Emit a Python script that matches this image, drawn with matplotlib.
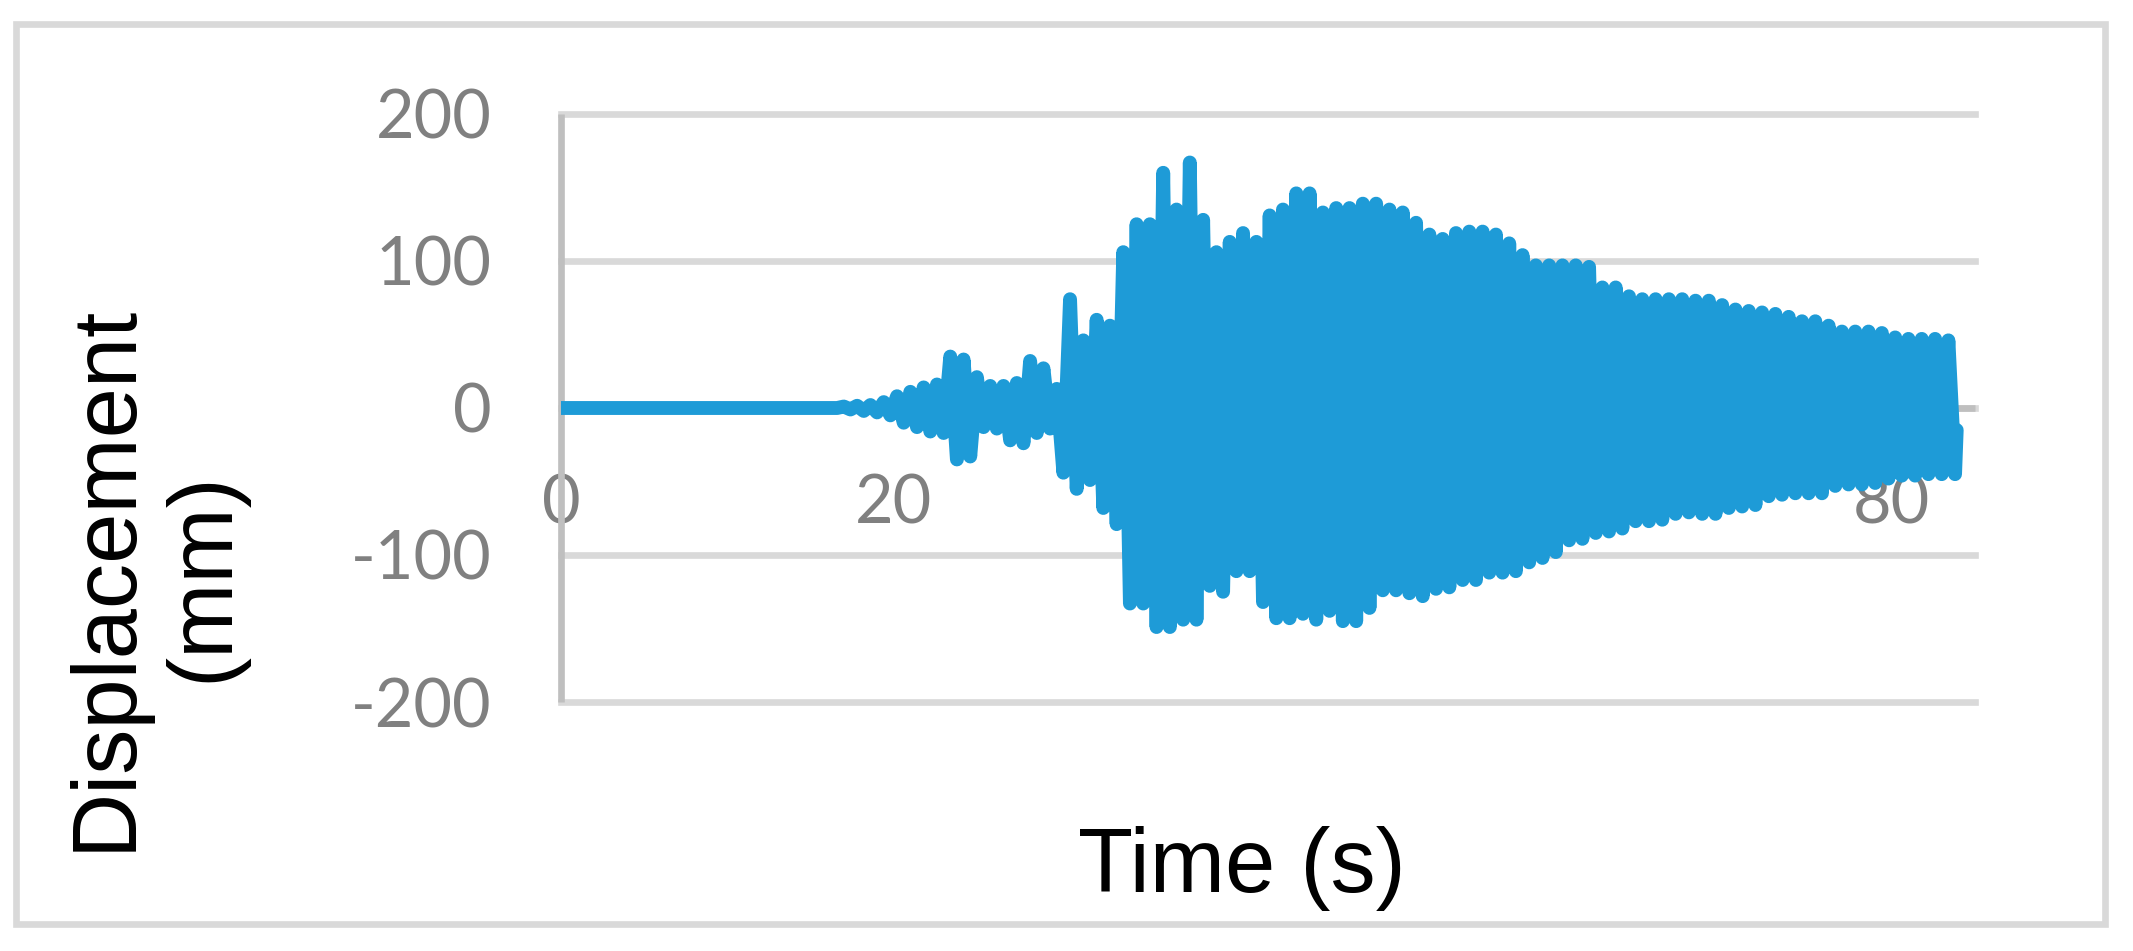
import matplotlib
matplotlib.use("Agg")
import matplotlib.pyplot as plt
from matplotlib.patches import Rectangle

# ---------------- data ----------------
time_s = [
    0.0, 16.6,
    17.0, 17.4, 17.8, 18.2, 18.6, 19.0, 19.4, 19.8, 20.2, 20.6,
    21.0, 21.4, 21.8, 22.2, 22.6, 23.0, 23.4, 23.8, 24.2, 24.6,
    25.0, 25.4, 25.8, 26.2, 26.6, 27.0, 27.4, 27.8, 28.2, 28.6,
    29.0, 29.4, 29.8, 30.2, 30.6, 31.0, 31.4, 31.8, 32.2, 32.6,
    33.0, 33.4, 33.8, 34.2, 34.6, 35.0, 35.4, 35.8, 36.2, 36.6,
    37.0, 37.4, 37.8, 38.2, 38.6, 39.0, 39.4, 39.8, 40.2, 40.6,
    41.0, 41.4, 41.8, 42.2, 42.6, 43.0, 43.4, 43.8, 44.2, 44.6,
    45.0, 45.4, 45.8, 46.2, 46.6, 47.0, 47.4, 47.8, 48.2, 48.6,
    49.0, 49.4, 49.8, 50.2, 50.6, 51.0, 51.4, 51.8, 52.2, 52.6,
    53.0, 53.4, 53.8, 54.2, 54.6, 55.0, 55.4, 55.8, 56.2, 56.6,
    57.0, 57.4, 57.8, 58.2, 58.6, 59.0, 59.4, 59.8, 60.2, 60.6,
    61.0, 61.4, 61.8, 62.2, 62.6, 63.0, 63.4, 63.8, 64.2, 64.6,
    65.0, 65.4, 65.8, 66.2, 66.6, 67.0, 67.4, 67.8, 68.2, 68.6,
    69.0, 69.4, 69.8, 70.2, 70.6, 71.0, 71.4, 71.8, 72.2, 72.6,
    73.0, 73.4, 73.8, 74.2, 74.6, 75.0, 75.4, 75.8, 76.2, 76.6,
    77.0, 77.4, 77.8, 78.2, 78.6, 79.0, 79.4, 79.8, 80.2, 80.6,
    81.0, 81.4, 81.8, 82.2, 82.6, 83.0, 83.4,
    83.8, 83.9,
]

disp_mm = [
    0, 0,
    1, -1, 1.5, -2, 2, -3, 4, -5, 8, -10,
    11, -13, 14, -16, 16, -17, 35, -35, 33, -33,
    21, -13, 15, -14, 15, -22, 17, -24, 32, -17,
    27, -14, 13, -44, 74, -55, 46, -49, 60, -68,
    56, -79, 106, -133, 125, -133, 125, -149, 160, -149,
    135, -144, 167, -144, 128, -121, 106, -125, 113, -111,
    119, -111, 113, -132, 131, -143, 135, -143, 146, -140,
    146, -144, 133, -138, 136, -145, 136, -145, 139, -136,
    139, -124, 135, -124, 133, -126, 126, -128, 118, -123,
    115, -122, 119, -117, 120, -117, 120, -112, 118, -112,
    112, -111, 104, -105, 97, -102, 97, -98, 97, -90,
    97, -89, 96, -85, 82, -84, 82, -82, 76, -77,
    74, -77, 74, -76, 74, -72, 74, -71, 73, -72,
    73, -72, 70, -68, 67, -67, 66, -66, 65, -60,
    64, -59, 62, -58, 59, -58, 59, -58, 56, -53,
    52, -52, 52, -52, 52, -51, 51, -48, 48, -46,
    47, -46, 47, -45, 47, -45, 46,
    -45, -15,
]

x_ticks = [0, 20, 40, 60, 80]
x_tick_labels = ["0", "20", "40", "60", "80"]
y_ticks = [-200, -100, 0, 100, 200]
y_tick_labels = ["-200", "-100", "0", "100", "200"]

x_label = "Time (s)"
y_label = "Displacement\n(mm)"

# ---------------- figure ----------------
plt.rcParams["axes.unicode_minus"] = False

W, H = 2133, 951
fig = plt.figure(figsize=(W / 100, H / 100), dpi=100)

# outer chart-area border
fig.patches.append(Rectangle((16 / W, 1 - 923.5 / H), (2104.5 - 16) / W, (923.5 - 24) / H,
                             transform=fig.transFigure, fill=False,
                             edgecolor="#D9D9D9", linewidth=4.8))

L, R, T, B = 561, 1975, 114, 702
ax = fig.add_axes([L / W, 1 - B / H, (R - L) / W, (B - T) / H])

ax.plot(time_s, disp_mm, color="#1E9BD7", lw=10,
        solid_joinstyle="round", solid_capstyle="round", zorder=3)

ax.set_xlim(0, 85)
ax.set_ylim(-200, 200)
ax.set_xticks(x_ticks)
ax.set_xticklabels(x_tick_labels)
ax.set_yticks(y_ticks)
ax.set_yticklabels(y_tick_labels)

for s in ["top", "right"]:
    ax.spines[s].set_visible(False)
ax.spines["bottom"].set_position(("data", 0))
for s in ["bottom", "left"]:
    ax.spines[s].set_color("#BFBFBF")
    ax.spines[s].set_linewidth(4.8)
    ax.spines[s].set_capstyle("butt")

ax.grid(axis="y", color="#D9D9D9", lw=4.8)
ax.set_axisbelow(True)
for tk in ax.yaxis.get_major_ticks():
    tk.gridline.set_clip_on(False)

ax.tick_params(axis="x", length=0, pad=47, colors="#808080")
ax.tick_params(axis="y", length=0, pad=50, colors="#808080")
for lab in ax.get_xticklabels() + ax.get_yticklabels():
    lab.set_fontfamily(["Lato", "DejaVu Sans"])
    lab.set_fontsize(48)
    lab.set_color("#808080")

fig.text(1242 / W, 1 - 892 / H, x_label, ha="center", va="baseline",
         fontsize=65, family=["Liberation Sans", "DejaVu Sans"], color="black")
fig.text(155 / W, 1 - 577 / H, y_label, ha="center", va="center", rotation=90,
         multialignment="center", linespacing=1.2,
         fontsize=65, family=["Liberation Sans", "DejaVu Sans"], color="black")

fig.savefig("out.png", dpi=100, facecolor="white")
